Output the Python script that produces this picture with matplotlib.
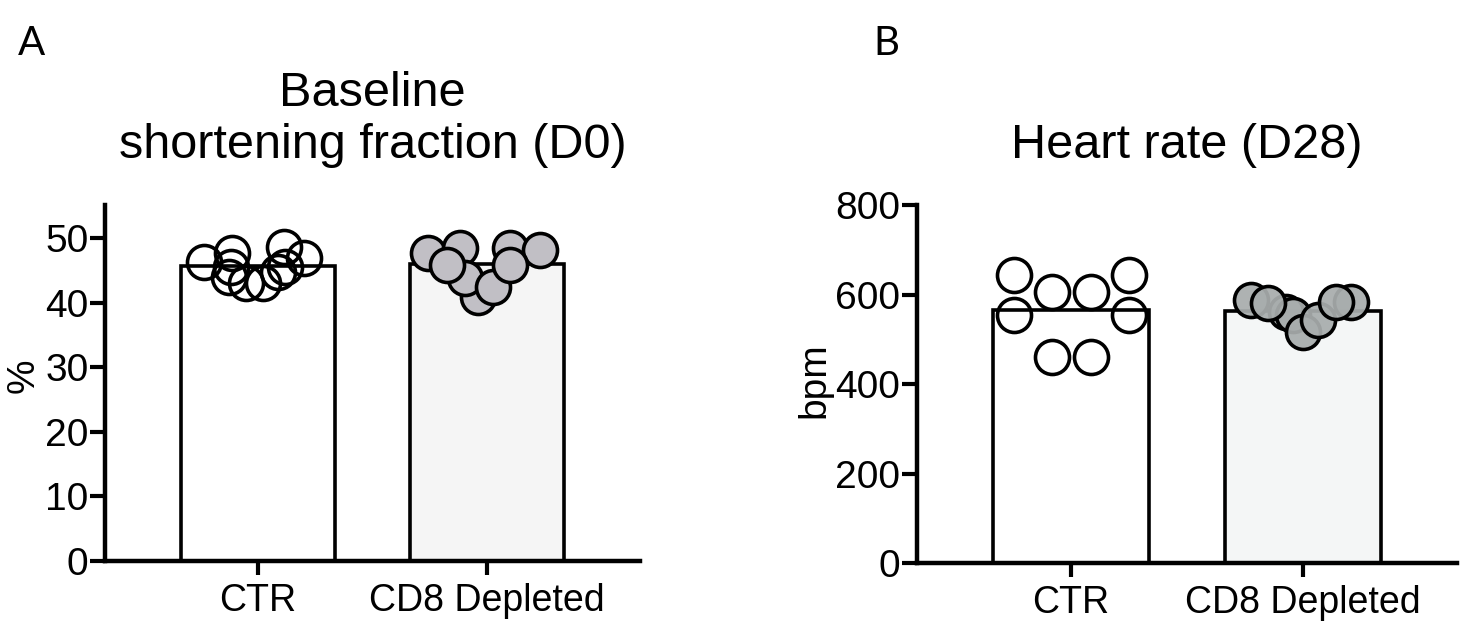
import matplotlib
matplotlib.use("Agg")
import matplotlib.pyplot as plt

plt.rcParams['font.family'] = ['Liberation Sans', 'DejaVu Sans']

groups = ['CTR', 'CD8 Depleted']

# Panel A - shortening fraction (%)
sf_means = [45.7, 46.0]
sf_ctr = [46.3, 47.7, 48.6, 46.9, 44.0, 43.0, 43.0, 44.7, 45.5, 45.5]
sf_ctr_dx = [-0.235, -0.11, 0.113, 0.2, -0.126, -0.052, 0.022, 0.087, 0.12, -0.117]
sf_cd8 = [47.7, 48.5, 40.9, 43.8, 45.8, 48.5, 48.1, 42.4, 45.8]
sf_cd8_dx = [-0.257, -0.117, -0.039, -0.096, -0.174, 0.1, 0.23, 0.026, 0.1]

# Panel B - heart rate (bpm)
hr_means = [565, 563]
hr_ctr = [643.6, 605.6, 605.6, 643.6, 554.2, 554.2, 460.3, 460.3]
hr_ctr_dx = [-0.248, -0.083, 0.087, 0.252, -0.248, 0.252, -0.083, 0.087]
hr_cd8 = [587.7, 560.9, 554.2, 581.0, 516.2, 543.0, 583.2, 583.2]
hr_cd8_dx = [-0.226, -0.074, -0.043, -0.152, 0.0, 0.065, 0.209, 0.143]

fig = plt.figure(figsize=(14.6, 6.27), dpi=100)
axA = fig.add_axes([0.0719, 0.1053, 0.3664, 0.5678])
axB = fig.add_axes([0.628, 0.102, 0.370, 0.571])

lw = 2.6
ms = 24.5


def panel(ax, means, ctr, ctr_dx, cd8, cd8_dx, bar2, dot2, ylim, yticks, title):
    ax.bar([0, 1], means, width=0.67, color=['white', bar2], edgecolor='black',
           linewidth=lw, zorder=1)
    ax.plot(ctr_dx, ctr, 'o', ms=ms, mfc='none', mec='black',
            mew=lw, zorder=3, clip_on=False)
    for dx, v in zip(cd8_dx, cd8):
        ax.plot(1 + dx, v, 'o', ms=ms, mfc=dot2, mec='black', mew=lw,
                zorder=3, clip_on=False)
    ax.set_xlim(-0.665, 1.665)
    ax.set_ylim(*ylim)
    ax.set_yticks(yticks)
    ax.set_xticks([0, 1])
    ax.set_xticklabels(groups, fontsize=27)
    ax.tick_params(axis='y', labelsize=28, length=11, width=lw + 0.4, pad=1)
    ax.tick_params(axis='x', length=10, width=lw + 0.4, pad=6)
    for s in ['top', 'right']:
        ax.spines[s].set_visible(False)
    for s in ['left', 'bottom']:
        ax.spines[s].set_linewidth(lw + 0.6)
    ax.set_title(title, fontsize=35, pad=34)


panel(axA, sf_means, sf_ctr, sf_ctr_dx, sf_cd8, sf_cd8_dx, '#f5f5f5', '#c1bfc5',
      (0, 55.1), [0, 10, 20, 30, 40, 50], 'Baseline\nshortening fraction (D0)')
panel(axB, hr_means, hr_ctr, hr_ctr_dx, hr_cd8, hr_cd8_dx, '#f4f6f6', '#a8adadee',
      (0, 800), [0, 200, 400, 600, 800], 'Heart rate (D28)')

fig.text(0.016, 0.40, '%', rotation=90, fontsize=28, ha='center', va='center')
fig.text(0.558, 0.393, 'bpm', rotation=90, fontsize=28, ha='center', va='center')

fig.text(0.012, 0.96, 'A', fontsize=29, family=['Lato', 'DejaVu Sans'], va='top')
fig.text(0.598, 0.96, 'B', fontsize=29, family=['Lato', 'DejaVu Sans'], va='top')

fig.savefig('out.png', dpi=100)
